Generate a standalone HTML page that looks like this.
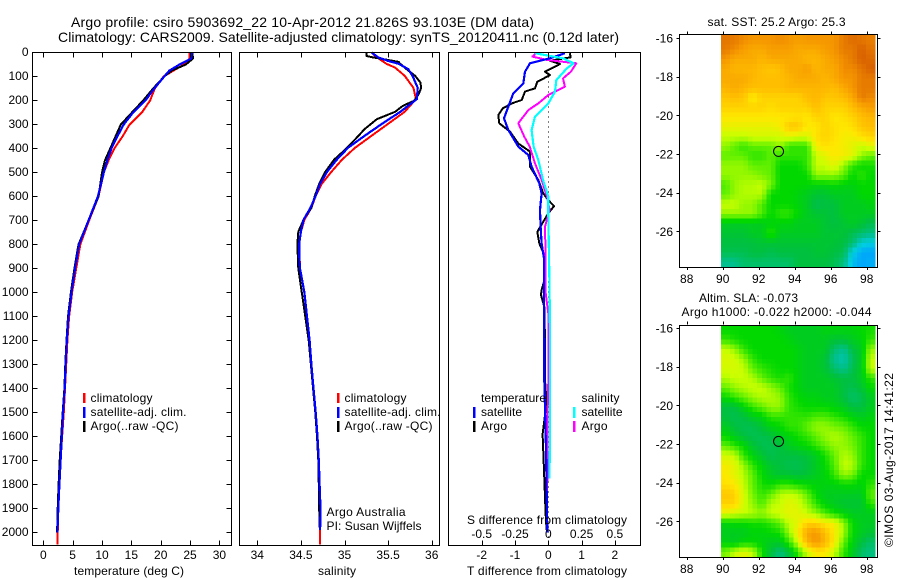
<!DOCTYPE html>
<html>
<head>
<meta charset="utf-8">
<title>Argo profile chart</title>
<style>
html,body{margin:0;padding:0;background:#fff;}
svg{display:block;}
text{font-family:"Liberation Sans",sans-serif;font-size:12px;fill:#000;}
.title{font-size:14px;}
.axis{fill:none;stroke:#000;stroke-width:1;shape-rendering:crispEdges;}
.series{fill:none;stroke-linejoin:round;shape-rendering:crispEdges;}
</style>
</head>
<body>
<svg id="chart" width="900" height="580" viewBox="0 0 900 580" xmlns="http://www.w3.org/2000/svg">
  <rect x="0" y="0" width="900" height="580" fill="#fff"/>
  <text class="title" x="71" y="27" textLength="463">Argo profile: csiro 5903692_22 10-Apr-2012 21.826S 93.103E (DM data)</text>
  <text class="title" x="58" y="42" textLength="561">Climatology: CARS2009. Satellite-adjusted climatology: synTS_20120411.nc (0.12d later)</text>

  <g id="maps"></g>
  <g id="panels"></g>
  <g id="ticks"></g>

  <rect class="axis" x="32.5" y="52.5" width="199" height="493"/>
  <rect class="axis" x="239.5" y="52.5" width="200" height="493"/>
  <rect class="axis" x="448.5" y="52.5" width="192" height="493"/>
  <rect class="axis" x="679.5" y="34.5" width="198" height="233"/>
  <rect class="axis" x="679.5" y="325.5" width="198" height="232"/>

  <text x="129" y="575" text-anchor="middle" textLength="110">temperature (deg C)</text>
  <text x="337" y="575" text-anchor="middle" textLength="38">salinity</text>
  <text x="547" y="575" text-anchor="middle" textLength="160">T difference from climatology</text>
  <text x="547" y="524" text-anchor="middle" textLength="160">S difference from climatology</text>

  <g>
    <rect x="83" y="393" width="2.5" height="10" fill="#f00"/>
    <rect x="83" y="407" width="2.5" height="11" fill="#00f"/>
    <rect x="83" y="421" width="2.5" height="11" fill="#000"/>
    <text x="90.5" y="402" textLength="62">climatology</text>
    <text x="90.5" y="416" textLength="96">satellite-adj. clim.</text>
    <text x="90.5" y="430" textLength="88">Argo(..raw -QC)</text>
  </g>
  <g>
    <rect x="337" y="393" width="2.5" height="10" fill="#f00"/>
    <rect x="337" y="407" width="2.5" height="11" fill="#00f"/>
    <rect x="337" y="421" width="2.5" height="11" fill="#000"/>
    <text x="344.5" y="402" textLength="62">climatology</text>
    <text x="344.5" y="416" textLength="96">satellite-adj. clim.</text>
    <text x="344.5" y="430" textLength="88">Argo(..raw -QC)</text>
    <text x="326.5" y="516" textLength="79">Argo Australia</text>
    <text x="326.5" y="530" textLength="95">PI: Susan Wijffels</text>
  </g>
  <g>
    <text x="481" y="402" textLength="65">temperature</text>
    <text x="481" y="416" textLength="41">satellite</text>
    <text x="481" y="430" textLength="26">Argo</text>
    <rect x="473" y="407" width="2.5" height="11" fill="#00f"/>
    <rect x="473" y="421" width="2.5" height="11" fill="#000"/>
    <text x="581.5" y="402" textLength="38">salinity</text>
    <text x="581.5" y="416" textLength="41">satellite</text>
    <text x="581.5" y="430" textLength="26">Argo</text>
    <rect x="573" y="407" width="2.5" height="11" fill="#0ff"/>
    <rect x="573" y="421" width="2.5" height="11" fill="#f0f"/>
  </g>

  <text x="707.5" y="26" textLength="138">sat. SST: 25.2 Argo: 25.3</text>
  <text x="699" y="302" textLength="99">Altim. SLA: -0.073</text>
  <text x="681.5" y="316" textLength="190">Argo h1000: -0.022 h2000: -0.044</text>
  <text transform="translate(893,547) rotate(-90)" x="0" y="0" textLength="174">©IMOS 03-Aug-2017 14:41:22</text>
</svg>
<script>
/* ---------- depth profile data ---------- */
var depthTicks = [0,100,200,300,400,500,600,700,800,900,1000,1100,1200,1300,1400,1500,1600,1700,1800,1900,2000];
var tempTicks = [0,5,10,15,20,25,30];
var salTicks = [34,34.5,35,35.5,36];
var diffTTicks = [-2,-1,0,1,2];
var diffSLabels = [-0.5,-0.25,0,0.25,0.5];
var diffSLabelText = ['-0.5','-0.25','0','0.25','0.5'];

var tempDepths = [0,25,50,75,100,150,200,250,300,350,400,450,500,600,700,800,900,1000,1100,1200,1300,1400,1500,1600,1700,1800,1900,2000,2050];
var tempClim = [24.9,24.9,24.0,22.2,20.5,19.0,18.2,16.8,14.7,13.5,12.1,11.1,10.3,9.4,7.8,6.3,5.6,4.9,4.4,4.1,3.9,3.7,3.5,3.2,2.95,2.75,2.55,2.45,2.45];
var tempSat = [25.3,25.2,23.2,21.5,20.6,18.9,17.4,15.3,13.7,12.6,11.6,10.9,10.3,9.3,7.7,6.1,5.4,4.8,4.3,4.0,3.8,3.64,3.36,3.15,2.95,2.75,2.55,2.4];
var tempArgo = [25.4,25.5,24.3,21.9,20.6,18.7,17.0,15.1,13.2,12.3,11.4,10.5,10.0,9.4,7.7,6.0,5.3,4.7,4.2,3.95,3.75,3.6,3.3,3.05,2.8,2.6,2.45,2.35];

var salDepthsClim = [0,14,47,63,97,147,194,247,297,347,397,447,497,547,597,647,697,747,797,900,1000,1100,1200,1300,1400,1500,1600,1700,1800,1900,2000,2050];
var salClim = [35.31,35.35,35.48,35.58,35.69,35.79,35.82,35.69,35.5,35.31,35.12,34.97,34.85,34.74,34.67,34.62,34.54,34.5,34.48,34.49,34.54,34.57,34.6,34.62,34.64,34.665,34.685,34.7,34.708,34.71,34.72,34.72];
var salDepthsSat = [0,21,35,47,69,97,147,194,247,297,347,397,447,497,547,597,647,697,747,797,847,900,1000,1100,1200,1300,1400,1500,1600,1700,1800,1900,1990];
var salSat = [35.31,35.39,35.5,35.62,35.73,35.78,35.84,35.83,35.64,35.43,35.23,35.04,34.91,34.8,34.72,34.67,34.61,34.53,34.5,34.48,34.48,34.49,34.54,34.57,34.6,34.62,34.645,34.67,34.69,34.705,34.715,34.725,34.72];
var salDepthsArgo = [0,14,21,28,39,47,69,97,125,147,174,201,222,247,278,319,347,397,447,497,547,597,647,697,747,797,847,900,1000,1100,1200,1300,1400,1500,1600,1700,1800,1900,1980];
var salArgo = [35.25,35.25,35.33,35.45,35.62,35.64,35.71,35.81,35.87,35.88,35.85,35.8,35.67,35.58,35.37,35.23,35.16,35.03,34.88,34.78,34.71,34.66,34.62,34.53,34.47,34.46,34.465,34.47,34.51,34.55,34.59,34.615,34.64,34.665,34.685,34.7,34.705,34.71,34.715];

var diffDepthsTSat = [3,24,45,80,129,170,226,274,323,392,427,476,545,587,656,726,795,858,1000,1365,1650,2000];
var diffTSat = [0.5,0.05,-0.55,-0.7,-0.75,-1.05,-1.2,-1.33,-1.2,-0.9,-0.6,-0.5,-0.27,-0.2,-0.25,-0.23,-0.2,-0.13,-0.13,-0.12,-0.07,-0.03];
var diffDepthsTArgo = [3,20,34,48,66,80,94,122,149,163,198,212,233,261,295,330,379,413,476,531,587,615,640,670,705,747,795,851,900,950,990,1010,1060,1200,1365,1460,1590,1740,1920,1990];
var diffTArgo = [0.65,0.67,0.05,0.35,0.1,-0.1,0.05,-0.33,-0.4,-0.7,-0.8,-1.1,-1.37,-1.5,-1.47,-1.15,-0.9,-0.55,-0.55,-0.3,-0.15,0,0.17,0,-0.15,-0.33,-0.27,-0.1,-0.1,-0.12,-0.2,-0.22,-0.12,-0.1,-0.1,-0.05,-0.17,-0.13,-0.08,-0.05];
var diffDepthsSSat = [3,24,45,66,115,163,212,267,323,392,448,531,601,670,851,1000,1200,1650,1775];
var diffSSat = [-0.1,0.11,0.19,0.14,0.06,0.05,0,-0.1,-0.125,-0.11,-0.075,-0.04,0,0,0.005,0.01,0.013,0.012,0.008];
var diffDepthsSArgo = [3,17,31,45,80,108,142,177,212,240,295,351,392,462,531,601,656,726,851,1000,1100,1300,1500,2000];
var diffSArgo = [-0.09,-0.12,-0.01,0.21,0.17,0.11,0.125,0,-0.075,-0.15,-0.225,-0.18,-0.14,-0.1,-0.05,-0.01,0.01,-0.025,-0.02,-0.02,0.003,0.003,-0.005,-0.01];

/* ---------- map data (colour-scale units 0..10) ---------- */
var mapLonTicks = [88,90,92,94,96,98];
var mapLatTicks = [-16,-18,-20,-22,-24,-26];
var floatLon = 93.103;
var floatLat = -21.826;
var sstRows = [
[9.6,9.5,9.2,9,9,9,9.2,9,8.8,9,9,9,9,9.5,9.8,9.6,9.4],
[9.5,9.2,8.8,8.5,8.5,8.8,8.8,8.8,8.5,8.5,8.5,8.8,9,9.5,9.5,10,9.6],
[9,8.5,8.5,8.5,8.2,8.5,8.5,8.5,8.5,8.2,8.2,8.5,8.8,9.2,9.5,10,9.8],
[8.5,8.2,8.2,8.2,8,7.8,8,8.5,8.5,8.8,8.2,8.5,8.5,9.2,9.2,9.6,10],
[8.5,8.5,8.5,8.2,8,8,8,8.2,8.5,8.5,8.5,8.2,8.5,9,9,9.5,9.5],
[8.2,8.5,8.2,8,8,8,8,8.2,8.2,8.2,8.2,8.2,8,8.5,9,9.5,9.5],
[7.8,8,7.8,6.8,7.5,7.5,7.5,7.5,7.5,8,8.2,7.8,7.8,8,8.5,9.5,9.2],
[7.5,7.5,7.5,7.5,7.5,7.2,7.5,7.5,7.5,7.5,8,7.5,7.5,7.5,8,8.5,8.8],
[7,7,7,7,7,7,7,7,7.2,7,7.5,7.5,7,7.2,7.5,8,8.2],
[6.6,6.6,6.6,6.6,6.6,6.6,6.8,7.8,7.8,7,7,7.5,7.2,7,7.2,7.8,8],
[6,6,6,6.2,6.2,6.2,6.2,6.5,6.3,6.3,7.2,7.5,7.2,6.8,6.8,7.2,7.5],
[5.5,5,4.5,5,5,5,5.5,4.5,4.5,4.5,6.8,7.2,7,6.8,6.5,6,6.5],
[5,5,5,4.5,4.5,5,4.5,4.5,4.5,4.5,6,6.5,7,6.8,6.5,5.5,5],
[5.5,5.5,5.5,5,5,5,4,4,4,4.5,6,6,6.5,5.5,4.5,4,4.2],
[5.5,5.5,5.5,5.5,5.2,5,4,4,4,4,5.5,5.5,5.5,5,4,4.5,4],
[4.8,5.5,5.8,5.8,6,5.2,4,4,4,4,3.8,3.8,4,3.8,3.8,4,4],
[5,5.5,5.8,5.8,5.8,4,4,4,3.8,3.5,3.2,3.2,3.5,3.5,3.5,4,4],
[6,6,5.5,5.5,4.8,4,4,4,3.8,3.5,2.8,3,3,3.5,3.5,3.5,3.8],
[5.5,5.5,5.5,5.5,4.8,4,4.5,4.5,4,3.5,3.2,3.2,3,3.5,3.5,3.5,3.5],
[3.5,3.5,3.5,3.5,3.5,3.8,3.8,3.8,3.5,3.5,3.5,3.2,3,3.2,3.5,3.2,2.8],
[3.2,3.2,3.2,3.5,3.5,4.5,3.5,3.5,3.5,3.5,3.5,3.2,3.2,3.2,2.8,2.5,2.2],
[3,3,3,3,3.2,3.2,3.2,3.2,3.2,3.2,3.2,3.2,3.2,3,2.5,1.2,1],
[2.8,2.8,2.8,3,3,2.8,3,3,3,3,3.2,3.2,3,2.8,1,0.2,0.1],
[2,2,2.5,2.5,2.5,2.5,2.5,2.5,3,3,3,3,2.8,2.2,0.6,0.1,0.3]
];
var slaRows = [
[4,4,4,4,4,4,3.8,3.5,3.5,3.5,3.5,3.8,3.8,3.8,3.8,4,4.2],
[4.5,4.2,4,4,4,4,4,3.8,3.5,3.5,3.5,3.5,3.2,3.2,3.5,3.8,4.5],
[6,5.5,4.5,4,4,4,4,4,3.8,3.5,3.5,3.5,2.5,2,3,3.5,5.5],
[6.3,6.2,5.5,4.5,4,4,4,4,3.8,3.5,3.5,3.2,2,1.6,2.6,3.5,6],
[6.2,6.2,6,5,4.5,4.2,4,4,3.8,3.5,3.5,3.2,2.5,2,2.8,3.5,6],
[5.8,6,6,5.8,5,4.5,4.2,4.5,3.8,3.5,3.5,3.5,3.2,3,3,3.5,4.5],
[5,5.5,5.8,6,6,5.5,5,4.2,3.8,3.5,3.5,3.5,3.5,3,2.8,3.2,4],
[4,4.5,5,5.5,5.8,5.8,5.5,4.5,4,3.8,3.8,3.5,3.5,3,2.5,2.8,3.5],
[3,3,3.8,4.5,5,5.5,5.5,4.5,4.2,4,4,4,3.8,3.5,3,3,3.5],
[3,2.8,3,3.5,3.8,4.5,4.5,4.5,4.5,4.5,4.8,4.8,4.5,4.2,3.8,3.5,3.8],
[3.5,3,2.8,2.8,3.2,3.8,4,4.5,4.5,5,5.5,5.5,5.2,5,4.5,4,4],
[4,3.5,3,2.8,2.8,3,3.5,3.8,4.2,4.5,5,5.5,5.8,5.5,5,4.5,4],
[5,4.5,4,3.2,2.8,2.8,3,3.5,3.8,4,4.5,5,5.5,5.5,5.2,4.5,4],
[6.2,6,4.5,3.8,3.2,2.8,3,3,3,3.2,3.5,4.2,5,5.8,5.5,4.5,4],
[6.8,6.5,5.5,4.5,3.8,3.2,3,2.8,2.8,3,3.5,4,4.8,6,5.8,4.5,4],
[7,6.5,5.8,5,4,3.5,3.2,3.2,3,3.2,3.5,3.8,4.5,5.5,5.2,4,4],
[7.2,7,6,5,4.2,4,4.5,4.5,4.2,4,3.8,3.8,3.8,4,4,3.8,4.5],
[7.8,7.6,6.2,5.2,4.5,5,5.8,6,5.8,5,4,3.5,3.5,3.5,3.5,3.5,5],
[7.5,7.5,6.2,5.5,4.8,5.8,6,6.5,6.2,5.5,4.5,3.8,3.5,3.2,3.2,3.2,4.5],
[6.5,6.2,6,5.8,5.5,6,6.2,6.5,6.5,6,5.5,4.8,4.2,3.8,3.5,3.5,3.5],
[3.8,4,4,4.2,4.2,4.5,5,6,6.5,7.5,7.5,7,6.8,5.5,4,3.5,3.5],
[3.5,3.5,3.5,3.8,3.8,4,4.2,5.5,7,8.6,9,8,7,5.6,4,3.5,3.2],
[3.8,3.5,4,4,3.8,3.5,3.5,4.5,6.2,8.2,9,8.2,7,5,3.8,3,2.5],
[5.2,6,6.5,6,4.2,3,2.2,3,4.5,6,7,7,6,4.5,3.5,2.5,2.2]
];
var colorStops = [[0,160,255],[0,208,224],[0,192,144],[0,192,64],[0,216,0],[96,240,0],[200,255,0],[255,232,0],[255,190,0],[245,150,0],[216,96,0]];

/* ---------- scales ---------- */
function yDepth(d){ return 52.5 + 0.24 * d; }
function xTemp(t){ return 43.3 + 5.87 * t; }
function xSal(s){ return 257.3 + 87.2 * (s - 34); }
function xDiffT(t){ return 548.3 + 33.3 * t; }
function xDiffS(s){ return 548.3 + 133.2 * s; }
function xLon(lon){ return 686.7 + 18 * (lon - 88); }
function yLat(lat, top){ return top + 19.33 * (-16 - lat); }

var NS = 'http://www.w3.org/2000/svg';
function mk(tag, parent, attrs){
  var el = document.createElementNS(NS, tag);
  for (var k in attrs) el.setAttribute(k, attrs[k]);
  parent.appendChild(el);
  return el;
}
function color(v){
  var c = Math.max(0, Math.min(10, v));
  var i = Math.min(9, Math.floor(c));
  var f = c - i;
  var a = colorStops[i], b = colorStops[i + 1];
  return 'rgb(' + Math.round(a[0] + (b[0] - a[0]) * f) + ',' + Math.round(a[1] + (b[1] - a[1]) * f) + ',' + Math.round(a[2] + (b[2] - a[2]) * f) + ')';
}
function sample(rows, u, v){
  var nr = rows.length, nc = rows[0].length;
  u = Math.max(0, Math.min(nc - 1, u));
  v = Math.max(0, Math.min(nr - 1, v));
  var i = Math.min(nc - 2, Math.floor(u)), j = Math.min(nr - 2, Math.floor(v));
  var fu = u - i, fv = v - j;
  return (rows[j][i] * (1 - fu) + rows[j][i + 1] * fu) * (1 - fv) + (rows[j + 1][i] * (1 - fu) + rows[j + 1][i + 1] * fu) * fv;
}

var panels = document.getElementById('panels');
var ticks = document.getElementById('ticks');
var maps = document.getElementById('maps');

function drawLine(name, depths, vals, xf, col, w){
  var pts = [];
  for (var i = 0; i < vals.length; i++) pts.push(xf(vals[i]).toFixed(1) + ',' + yDepth(depths[i]).toFixed(1));
  var el = mk('polyline', panels, {'class':'series', points:pts.join(' '), stroke:col, 'stroke-width':w});
  
  
}

/* zero line in the difference panel */
var zero = mk('line', panels, {x1:548.5, x2:548.5, y1:yDepth(100), y2:545, stroke:'#000', 'stroke-width':1, 'stroke-dasharray':'1 4', 'shape-rendering':'crispEdges'});



drawLine('temperature-climatology-line', tempDepths, tempClim, xTemp, '#f00', 2);
drawLine('temperature-argo-line', tempDepths, tempArgo, xTemp, '#000', 2);
drawLine('temperature-satellite-line', tempDepths, tempSat, xTemp, '#00f', 2.2);

drawLine('salinity-climatology-line', salDepthsClim, salClim, xSal, '#f00', 2);
drawLine('salinity-argo-line', salDepthsArgo, salArgo, xSal, '#000', 2);
drawLine('salinity-satellite-line', salDepthsSat, salSat, xSal, '#00f', 2.2);

drawLine('t-difference-argo-line', diffDepthsTArgo, diffTArgo, xDiffT, '#000', 2);
drawLine('s-difference-argo-line', diffDepthsSArgo, diffSArgo, xDiffS, '#f0f', 2);
drawLine('t-difference-satellite-line', diffDepthsTSat, diffTSat, xDiffT, '#00f', 2.2);
drawLine('s-difference-satellite-line', diffDepthsSSat, diffSSat, xDiffS, '#0ff', 2.2);

/* ticks */
function tick(x1, y1, x2, y2){
  var el = mk('line', ticks, {'class':'axis', x1:x1, y1:y1, x2:x2, y2:y2});
  
  
}
function label(name, str, x, y, anchor){
  var el = mk('text', ticks, {x:x, y:y, 'text-anchor':anchor});
  el.textContent = str;
  
  
}
depthTicks.forEach(function(d){
  var y = Math.floor(yDepth(d)) + 0.5;
  tick(32.5, y, 37.5, y);
  tick(231.5, y, 226.5, y);
  label('depth-tick-label', String(d), 28.5, yDepth(d) + 3.7, 'end');
});
function xAxis(values, xf, namePrefix, text){
  values.forEach(function(v, i){
    var x = Math.round(xf(v)) + 0.5;
    tick(x, 52.5, x, 57.5);
    tick(x, 545.5, x, 540.5);
    label(namePrefix + '-tick-label', text ? text[i] : String(v), xf(v), 559, 'middle');
  });
}
xAxis(tempTicks, xTemp, 'temperature');
xAxis(salTicks, xSal, 'salinity');
xAxis(diffTTicks, xDiffT, 't-difference');
diffSLabels.forEach(function(s, i){
  label('s-difference-tick-label', diffSLabelText[i], xDiffS(s), 538, 'middle');
});

/* maps: each array cell is drawn as 2x2 sub-cells sampled from the array */
function drawMap(prefix, rows, top, bottom, imgTop){
  var nr = rows.length, nc = rows[0].length;
  var subW = 154 / (nc * 2), subH = (bottom - imgTop) / (nr * 2);
  for (var j = 0; j < nr * 2; j++) {
    for (var i = 0; i < nc * 2; i++) {
      var v = sample(rows, (i - 0.5) / 2, (j - 0.5) / 2);
      var cell = mk('rect', maps, {x:(721 + i * subW).toFixed(2), y:(imgTop + j * subH).toFixed(2), width:(subW + 0.3).toFixed(2), height:(subH + 0.3).toFixed(2), fill:color(v), 'shape-rendering':'crispEdges'});
      
      
    }
  }
  mapLonTicks.forEach(function(lon){
    var x = Math.round(xLon(lon)) + 0.5;
    tick(x, imgTop - 0.5, x, imgTop - 3.5);
    tick(x, bottom + 0.5, x, bottom + 3);
    label(prefix + '-longitude-tick-label', String(lon), xLon(lon), bottom + 16, 'middle');
  });
  mapLatTicks.forEach(function(lat){
    var y = Math.round(yLat(lat, top)) + 0.5;
    tick(679.5, y, 676.5, y);
    tick(877.5, y, 880.5, y);
    label(prefix + '-latitude-tick-label', String(lat), 673, yLat(lat, top) + 4.5, 'end');
  });
  var c = mk('circle', maps, {cx:xLon(floatLon), cy:yLat(floatLat, top) + 0.8, r:5, fill:'none', stroke:'#000', 'stroke-width':1});
  
  
}
drawMap('sst', sstRows, 38, 267, 35);
drawMap('sla', slaRows, 328, 557, 325);
</script>
</body>
</html>
